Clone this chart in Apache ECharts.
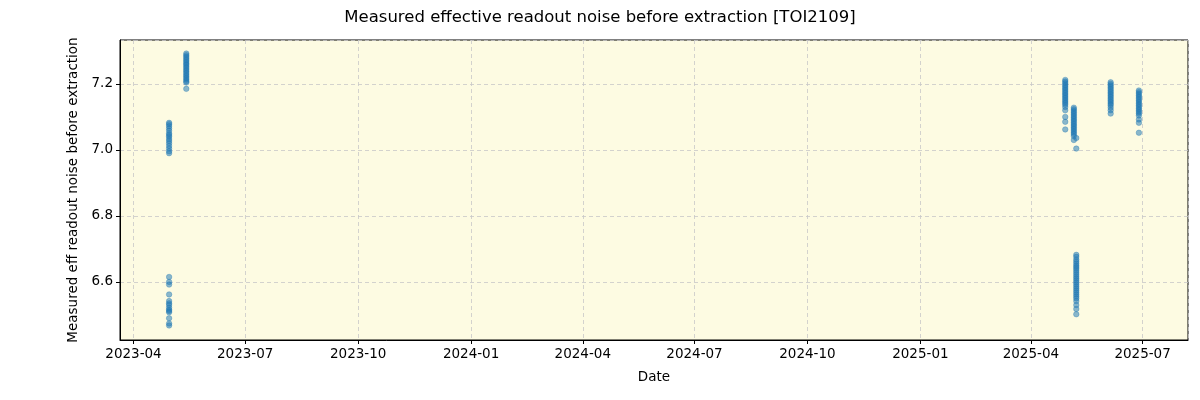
<!DOCTYPE html>
<html>
<head>
<meta charset="utf-8">
<script src="https://cdn.jsdelivr.net/npm/echarts@6/dist/echarts.min.js"></script>
<style>
  html, body { margin: 0; padding: 0; background: #fff; }
  #chart { width: 1200px; height: 400px; }
</style>
</head>
<body>
<div id="chart"></div>
<script>
// observing nights and the measured noise of each exposure
var nightDates = ['2023-04-30', '2023-05-14', '2025-04-29', '2025-05-06', '2025-05-08', '2025-06-05', '2025-06-28'];
var night1 = [7.082, 7.078, 7.072, 7.065, 7.058, 7.05, 7.045, 7.04, 7.033, 7.027, 7.02, 7.012, 7.004, 6.996, 6.99,
              6.615, 6.6, 6.592, 6.562, 6.542, 6.535, 6.53, 6.522, 6.516, 6.512, 6.508, 6.49, 6.474, 6.468];
var night2 = [7.292, 7.287, 7.282, 7.277, 7.272, 7.267, 7.262, 7.258, 7.253, 7.248, 7.243, 7.238, 7.233, 7.228,
              7.223, 7.218, 7.213, 7.208, 7.204, 7.185];
var night3 = [7.212, 7.207, 7.202, 7.197, 7.192, 7.187, 7.182, 7.177, 7.172, 7.167, 7.162, 7.157, 7.152, 7.147,
              7.142, 7.137, 7.13, 7.12, 7.1, 7.085, 7.062];
var night4 = [7.128, 7.123, 7.118, 7.113, 7.108, 7.103, 7.098, 7.093, 7.088, 7.083, 7.078, 7.073, 7.068, 7.063,
              7.058, 7.053, 7.048, 7.042, 7.03];
var night5 = [7.036, 7.004,
              6.682, 6.676, 6.668, 6.662, 6.656, 6.65, 6.645, 6.64, 6.634, 6.628, 6.622, 6.616, 6.61, 6.604, 6.598,
              6.592, 6.586, 6.58, 6.574, 6.568, 6.562, 6.556, 6.55, 6.542, 6.53, 6.518, 6.502];
var night6 = [7.205, 7.2, 7.195, 7.19, 7.185, 7.18, 7.175, 7.17, 7.165, 7.16, 7.155, 7.15, 7.145, 7.14, 7.135,
              7.128, 7.12, 7.11];
var night7 = [7.18, 7.175, 7.17, 7.165, 7.16, 7.155, 7.15, 7.145, 7.14, 7.135, 7.13, 7.125, 7.12, 7.115, 7.11,
              7.104, 7.092, 7.082, 7.052];
var nightValues = [night1, night2, night3, night4, night5, night6, night7];

var points = [];
nightDates.forEach(function (d, i) {
  nightValues[i].forEach(function (v) { points.push([d, v]); });
});

var chart = echarts.init(document.getElementById('chart'));
var font = 'DejaVu Sans';
chart.setOption({
  animation: false,
  title: {
    text: 'Measured effective readout noise before extraction [TOI2109]',
    left: 'center',
    top: 4,
    textStyle: { fontFamily: font, fontSize: 16.5, fontWeight: 'normal', color: '#000' }
  },
  grid: {
    left: 120, right: 12, top: 40, bottom: 60,
    show: true,
    backgroundColor: '#fdfbe2',
    borderColor: '#000',
    borderWidth: 1
  },
  xAxis: {
    type: 'time',
    min: '2023-03-21',
    max: '2025-08-07',
    minInterval: 89 * 86400000,
    maxInterval: 92 * 86400000,
    name: 'Date',
    nameLocation: 'middle',
    nameGap: 30,
    nameTextStyle: { fontFamily: font, fontSize: 13.5, color: '#000' },
    axisLine: { show: true, onZero: false, lineStyle: { color: '#000' } },
    axisTick: { show: true, length: 4, lineStyle: { color: '#000' } },
    axisLabel: {
      formatter: '{yyyy}-{MM}',
      fontFamily: font, fontSize: 13.5, color: '#000', margin: 7,
      showMinLabel: false, showMaxLabel: false
    },
    splitLine: { show: true, lineStyle: { color: '#c8c8c8', type: [4, 3], width: 0.8 } }
  },
  yAxis: {
    type: 'value',
    min: 6.424,
    max: 7.333,
    name: 'Measured eff readout noise before extraction',
    nameLocation: 'middle',
    nameGap: 36,
    nameTextStyle: { fontFamily: font, fontSize: 13.5, color: '#000' },
    axisLine: { show: true, lineStyle: { color: '#000' } },
    axisTick: { show: true, length: 4, lineStyle: { color: '#000' } },
    axisLabel: {
      formatter: function (v) { return v.toFixed(1); },
      fontFamily: font, fontSize: 13.5, color: '#000', margin: 7,
      showMinLabel: false, showMaxLabel: false
    },
    splitLine: { show: true, lineStyle: { color: '#c8c8c8', type: [4, 3], width: 0.8 } }
  },
  series: [{
    type: 'scatter',
    data: points,
    symbolSize: 5.5,
    itemStyle: { color: 'rgba(31,119,180,0.65)', borderColor: 'rgba(31,119,180,0.7)', borderWidth: 0.6 }
  }]
});
</script>
</body>
</html>
